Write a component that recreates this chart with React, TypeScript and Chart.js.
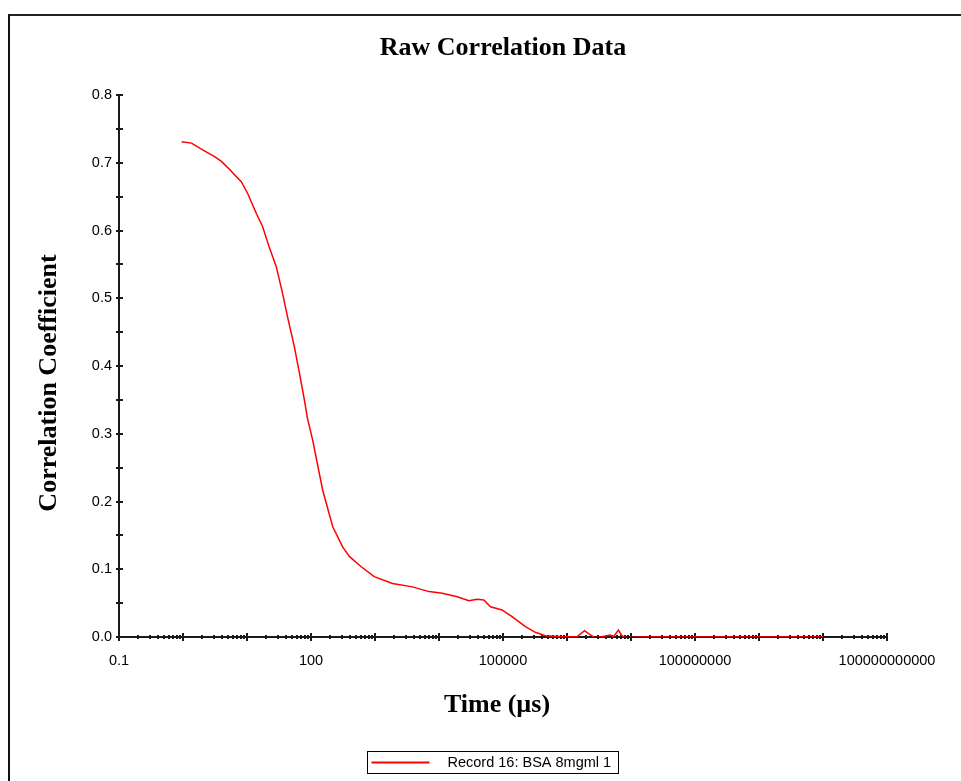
import React, { useEffect, useRef } from "react";
import { Chart, registerables } from "chart.js";

Chart.register(...registerables);

// Lag time (µs) and the measured correlation coefficient at each lag
const lagTimes = [
  0.95, 1.36, 2.03, 3.12, 3.98, 5.36, 6.89, 8.15, 10.2, 14.0, 17.5, 22.5, 28.6,
  35.8, 42.9, 55.1, 65.9, 78.8, 87.9, 106, 152, 218, 312, 397, 603, 972, 1875,
  3840, 6980, 11250, 19270, 29300, 39500, 50200, 63900, 96800, 138600, 224000,
  320000, 459000, 833000, 1430000, 1880000, 2310000, 2760000, 3500000, 4720000,
  5320000, 6370000, 7170000, 8570000, 12000000, 100000000, 1000000000,
  10000000000,
];
const correlation = [
  0.731, 0.729, 0.719, 0.709, 0.702, 0.69, 0.679, 0.672, 0.655, 0.625, 0.606,
  0.574, 0.547, 0.508, 0.473, 0.428, 0.39, 0.35, 0.323, 0.291, 0.217, 0.163,
  0.133, 0.119, 0.104, 0.089, 0.079, 0.074, 0.067, 0.0645, 0.0595, 0.0536,
  0.0556, 0.0546, 0.0447, 0.0399, 0.03, 0.0152, 0.0069, 0.0019, 0.0004, 0.0004,
  0.0093, 0.003, -0.001, 0.0004, 0.003, 0.0004, 0.0103, 0.002, -0.0015, 0, 0, 0,
  0,
];

// Decade ticks on the time axis, and the ones that carry a label
const xDecades = [
  0.1, 1, 10, 100, 1000, 10000, 100000, 1000000, 10000000, 100000000,
  1000000000, 10000000000, 100000000000,
];
const xLabelled = [0.1, 100, 100000, 100000000, 100000000000];

const yMin = 0;
const yMax = 0.8;
const yStep = 0.05;

const chartTitle = "Raw Correlation Data";
const xTitle = "Time (µs)";
const yTitle = "Correlation Coefficient";
const seriesLabel = "Record 16: BSA 8mgml 1";

const W = 961;
const H = 781;
const PLOT = { left: 119, right: 887, top: 95, bottom: 637 };
const Y_AXIS_W = 60;
const X_AXIS_H = 40;

const SANS = "'Liberation Sans', Arial, sans-serif";
const SERIF = "'Liberation Serif', 'Times New Roman', serif";
const AXIS_COLOR = "#1a1a1a";
const LINE_COLOR = "rgb(255,0,0)";

// Axis lines with tick marks that straddle the axis
const axisDecor = {
  id: "axisDecor",
  beforeDatasetsDraw(chart: any) {
    const { ctx, chartArea } = chart;
    const xs = chart.scales.x;
    const ys = chart.scales.y;
    ctx.save();
    ctx.strokeStyle = AXIS_COLOR;
    ctx.lineWidth = 2;
    ctx.beginPath();
    ctx.moveTo(chartArea.left, chartArea.top);
    ctx.lineTo(chartArea.left, chartArea.bottom);
    ctx.moveTo(chartArea.left, chartArea.bottom);
    ctx.lineTo(chartArea.right, chartArea.bottom);
    ctx.stroke();

    // y ticks
    ctx.lineWidth = 2;
    ctx.beginPath();
    for (const t of ys.ticks) {
      const py = Math.round(ys.getPixelForValue(t.value));
      ctx.moveTo(chartArea.left - 3, py);
      ctx.lineTo(chartArea.left + 4, py);
    }
    ctx.stroke();

    // x ticks: long at each decade, short at 2..9
    const y0 = chartArea.bottom;
    ctx.beginPath();
    xDecades.forEach((d, i) => {
      const px = Math.round(xs.getPixelForValue(d));
      ctx.moveTo(px, y0 - 4);
      ctx.lineTo(px, y0 + 4);
      if (i < xDecades.length - 1) {
        for (let m = 2; m <= 9; m++) {
          const mx = Math.round(xs.getPixelForValue(d * m));
          ctx.moveTo(mx, y0 - 2);
          ctx.lineTo(mx, y0 + 2);
        }
      }
    });
    ctx.stroke();
    ctx.restore();
  },
  afterDraw(chart: any) {
    const { ctx, chartArea } = chart;
    const midX = (chartArea.left + chartArea.right) / 2;
    ctx.save();
    ctx.fillStyle = "#000";
    ctx.textAlign = "center";
    ctx.textBaseline = "middle";
    ctx.font = `bold 26px ${SERIF}`;
    ctx.fillText(chartTitle, midX, chartArea.top - 47);
    ctx.fillText(xTitle, midX - 6, chartArea.bottom + 68);

    ctx.save();
    ctx.translate(chartArea.left - 70, (chartArea.top + chartArea.bottom) / 2 + 17);
    ctx.rotate(-Math.PI / 2);
    ctx.fillText(yTitle, 0, 0);
    ctx.restore();

    // legend box
    const ds = chart.data.datasets[0];
    const bx = 367.5;
    const by = 751.5;
    const bw = 251;
    const bh = 22;
    ctx.strokeStyle = "#000";
    ctx.lineWidth = 1;
    ctx.strokeRect(bx, by, bw, bh);
    ctx.strokeStyle = ds.borderColor;
    ctx.lineWidth = 2;
    ctx.beginPath();
    ctx.moveTo(bx + 4, by + 11);
    ctx.lineTo(bx + 62, by + 11);
    ctx.stroke();
    ctx.font = `14.5px ${SANS}`;
    ctx.textAlign = "left";
    ctx.fillStyle = "#000";
    ctx.fillText(ds.label, bx + 80, by + 11.5);
    ctx.restore();
  },
};

export default function App() {
  const canvasRef = useRef<HTMLCanvasElement | null>(null);

  useEffect(() => {
    const canvas = canvasRef.current;
    if (!canvas) return;
    const chart = new Chart(canvas, {
      type: "line",
      data: {
        datasets: [
          {
            label: seriesLabel,
            data: lagTimes.map((t, i) => ({ x: t, y: correlation[i] })),
            borderColor: LINE_COLOR,
            borderWidth: 1.5,
            pointRadius: 0,
            tension: 0,
            fill: false,
          },
        ],
      },
      options: {
        animation: false,
        responsive: false,
        devicePixelRatio: 1,
        layout: {
          padding: {
            left: PLOT.left - Y_AXIS_W,
            right: W - PLOT.right,
            top: PLOT.top,
            bottom: H - PLOT.bottom - X_AXIS_H,
          },
        },
        plugins: {
          legend: { display: false },
          title: { display: false },
          tooltip: { enabled: false },
        },
        scales: {
          x: {
            type: "logarithmic",
            min: xDecades[0],
            max: xDecades[xDecades.length - 1],
            grid: { display: false, drawTicks: false },
            border: { display: false },
            afterBuildTicks: (scale: any) => {
              scale.ticks = xDecades.map((v) => ({ value: v }));
            },
            afterFit: (scale: any) => {
              scale.height = X_AXIS_H;
            },
            ticks: {
              autoSkip: false,
              maxRotation: 0,
              padding: 15,
              color: "#000",
              font: { family: SANS, size: 14.5 },
              callback: (v: any) =>
                xLabelled.some((l) => Math.abs(Math.log10(l) - Math.log10(v)) < 1e-6)
                  ? String(v)
                  : "",
            },
          },
          y: {
            type: "linear",
            min: yMin,
            max: yMax,
            grid: { display: false, drawTicks: false },
            border: { display: false },
            afterFit: (scale: any) => {
              scale.width = Y_AXIS_W;
            },
            ticks: {
              stepSize: yStep,
              autoSkip: false,
              padding: 7,
              color: "#000",
              font: { family: SANS, size: 14.5 },
              callback: (v: any) => {
                const n = Number(v) * 10;
                return Math.abs(n - Math.round(n)) < 1e-6 ? Number(v).toFixed(1) : "";
              },
            },
          },
        },
      },
      plugins: [axisDecor],
    });
    return () => chart.destroy();
  }, []);

  return (
    <div
      style={{
        position: "fixed",
        left: 0,
        top: 0,
        width: W,
        height: H,
        overflow: "hidden",
        background: "#fff",
      }}
    >
      <div
        style={{
          position: "absolute",
          left: 8,
          top: 14,
          width: 2000,
          height: 2000,
          borderLeft: "2px solid #111",
          borderTop: "2px solid #222",
        }}
      />
      <canvas
        ref={canvasRef}
        width={W}
        height={H}
        style={{ position: "absolute", left: 0, top: 0, width: W, height: H }}
      />
    </div>
  );
}
